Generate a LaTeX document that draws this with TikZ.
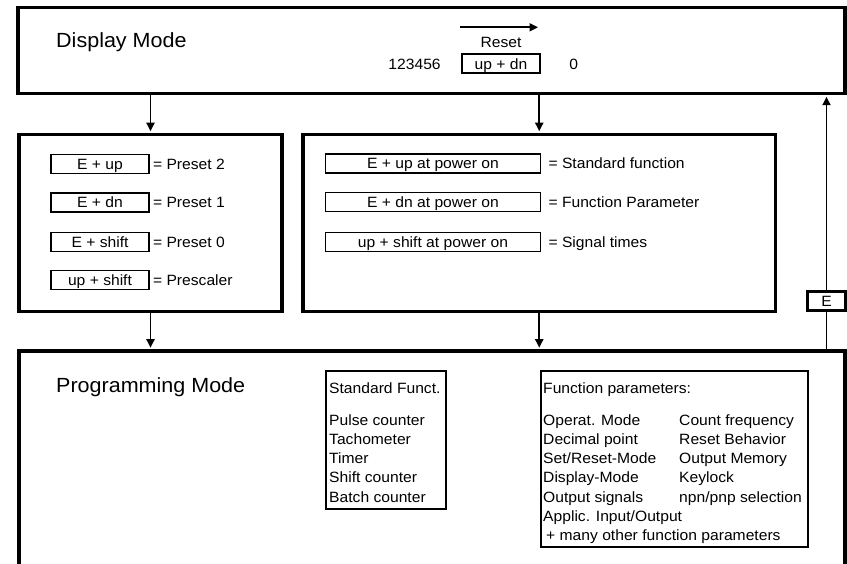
\documentclass[tikz,border=0pt]{standalone}
\usepackage{fontspec}
\setmainfont{Liberation Sans}[FakeStretch=1.05]
\usetikzlibrary{positioning,arrows.meta}

\begin{document}
\begin{tikzpicture}[x=1pt,y=-1pt]
\tikzstyle{every node} = [inner sep=0pt, font=\fontsize{14.9}{19.3}\selectfont]
\tikzstyle{modebox} = [draw, line width=3.3pt, inner sep=0pt]
\tikzstyle{keybox} = [draw, line width=1.7pt, minimum height=19pt, text height=10.6pt, text depth=0pt]
\tikzstyle{listbox} = [draw, line width=1.8pt, anchor=north west]
\tikzstyle{flow} = [line width=1.8pt, shorten >=1.6pt, -{Triangle[length=8.5pt,width=8pt]}]
\tikzstyle{big} = [font=\fontsize{20.5}{24}\selectfont]

\clip (0,0) rectangle (847,564);

% display mode
\node[modebox, minimum width=827pt, minimum height=86pt] (display) at (431.5,50.5) {};
\node[big, anchor=base west] (dmode) at (56,47.7) {Display Mode};
\node[keybox, line width=2.2pt, minimum width=78pt] (updn) at (501,63.8) {up + dn};
\node[base left=20pt of updn] (count) {123456};
\node[base right=28pt of updn] (zero) {0};
\node[above=5pt of updn] (reset) {Reset};
\coordinate (rs) at (460,27.3);
\coordinate (re) at (539.6,27.3);
\draw[flow] (rs) -- (re);

% the two key boxes
\node[modebox, minimum width=263pt, minimum height=177pt] (keys) at (150.5,223) {};
\node[modebox, minimum width=472.5pt, minimum height=177pt] (power) at (539.25,223) {};

\node[keybox, minimum width=98pt] (k1) at (100,164) {E + up};
\node[keybox, minimum width=98pt] (k2) at (100,202.5) {E + dn};
\node[keybox, minimum width=98pt] (k3) at (100,242) {E + shift};
\node[keybox, minimum width=98pt] (k4) at (100,280) {up + shift};
\node[base right=3pt of k1] (l1) {= Preset 2};
\node[base right=3pt of k2] (l2) {= Preset 1};
\node[base right=3pt of k3] (l3) {= Preset 0};
\node[base right=3pt of k4] (l4) {= Prescaler};

\node[keybox, minimum width=215pt] (p1) at (433,163.5) {E + up at power on};
\node[keybox, minimum width=215pt] (p2) at (433,202) {E + dn at power on};
\node[keybox, minimum width=215pt] (p3) at (433,242) {up + shift at power on};
\node[base right=7pt of p1] (q1) {= Standard function};
\node[base right=7pt of p2] (q2) {= Function Parameter};
\node[base right=7pt of p3] (q3) {= Signal times};

% programming mode
\node[modebox, minimum width=826pt, minimum height=300pt] (prog) at (432,501) {};
\node[big, anchor=base west] (pmode) at (56,392) {Programming Mode};
\node[modebox, line width=3pt, minimum width=37.5pt, minimum height=19pt, text height=10.6pt, text depth=0pt] (ebox) at (826.5,301) {E};

\node[listbox, minimum width=120pt, minimum height=138pt] (std) at (325,370) {};
\node[anchor=base west] (s0) at (329,393) {Standard Funct.};
\foreach \t [count=\i] in {Pulse counter, Tachometer, Timer, Shift counter, Batch counter}
  \node[anchor=base west] (s\i) at (329,{405.7+19.3*\i}) {\t};

\node[listbox, minimum width=267pt, minimum height=176pt] (par) at (540,370) {};
\node[anchor=base west] (f0) at (543,393) {Function parameters:};
\foreach \t [count=\i] in {Operat. Mode, Decimal point, Set/Reset-Mode, Display-Mode, Output signals, Applic. Input/Output}
  \node[anchor=base west] (f\i) at (543,{405.7+19.3*\i}) {\t};
\node[anchor=base west] (fmore) at (546,540.8) {+ many other function parameters};
\foreach \t [count=\i] in {Count frequency, Reset Behavior, Output Memory, Keylock, npn/pnp selection}
  \node[anchor=base west] (g\i) at (679,{405.7+19.3*\i}) {\t};

% connectors
\draw[flow] (display.south -| keys.north) -- (keys.north);
\draw[flow] (display.south -| power.north) -- (power.north);
\draw[flow] (keys.south) -- (prog.north -| keys.south);
\draw[flow] (power.south) -- (prog.north -| power.south);
\draw[line width=1.8pt] (prog.north -| ebox.south) -- (ebox.south);
\draw[flow] (ebox.north) -- (display.south -| ebox.north);

\end{tikzpicture}
\end{document}
